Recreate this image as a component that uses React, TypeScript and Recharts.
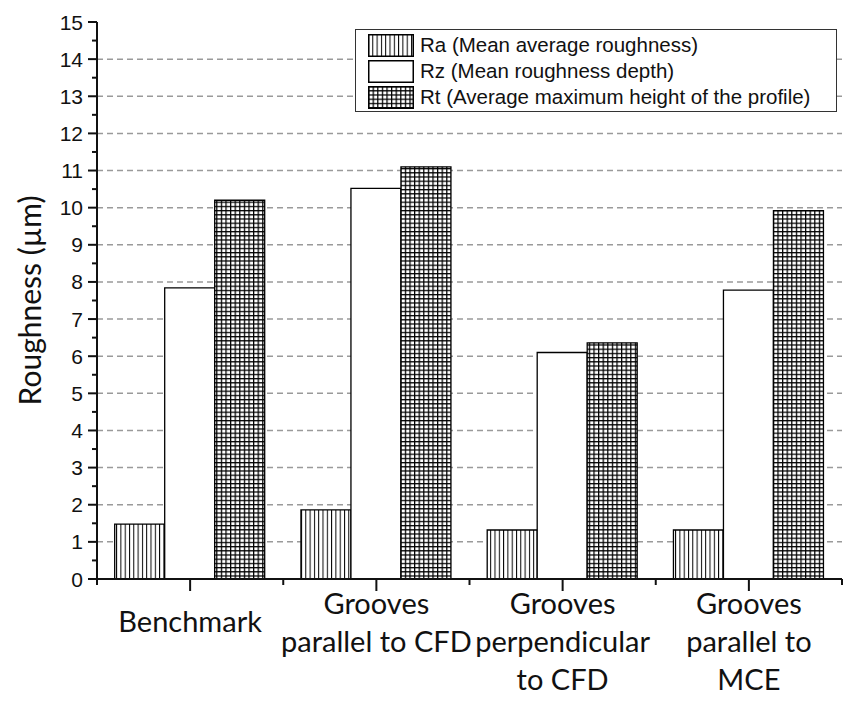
import React from "react"
import { Bar, BarChart, CartesianGrid, Legend, XAxis, YAxis } from "recharts"

// roughness per surface condition, µm
const categories = [
    "Benchmark",
    "Grooves parallel to CFD",
    "Grooves perpendicular to CFD",
    "Grooves parallel to MCE",
]
const categoryLines = [
    ["Benchmark"],
    ["Grooves", "parallel to CFD"],
    ["Grooves", "perpendicular", "to CFD"],
    ["Grooves", "parallel to", "MCE"],
]
const raValues = [1.48, 1.86, 1.32, 1.32]
const rzValues = [7.84, 10.52, 6.1, 7.78]
const rtValues = [10.2, 11.1, 6.36, 9.92]

const seriesNames = [
    "Ra (Mean average roughness)",
    "Rz (Mean roughness depth)",
    "Rt (Average maximum height of the profile)",
]
const yTicks = [0, 1, 2, 3, 4, 5, 6, 7, 8, 9, 10, 11, 12, 13, 14, 15]
const gridValues = [1, 2, 3, 4, 5, 6, 7, 8, 9, 10, 11, 12, 13, 14]

const data = categories.map((name, i) => ({
    name,
    ra: raValues[i],
    rz: rzValues[i],
    rt: rtValues[i],
}))

// ticks every 0.5, labels only on whole numbers
const allYTicks = yTicks.flatMap((t) => (t < 15 ? [t, t + 0.5] : [t]))

const WIDTH = 844
const HEIGHT = 703
const LEFT = 97
const RIGHT_MARGIN = 2
const PLOT_W = WIDTH - LEFT - RIGHT_MARGIN
const BAND = PLOT_W / categories.length

const TICK_FONT = "'Liberation Sans', Arial, sans-serif"
const LABEL_FONT = "Lato, 'Open Sans', sans-serif"
const INK = "#111"

function LeftTick({ x, y, payload }: any) {
    const major = Number.isInteger(payload.value)
    return (
        <g>
            <line x1={x - (major ? 9 : 5)} x2={x} y1={y} y2={y} stroke={INK} strokeWidth={2} />
            {major && (
                <text
                    x={x - 14}
                    y={y + 7.5}
                    textAnchor="end"
                    fontFamily={TICK_FONT}
                    fontSize={21}
                    fill={INK}
                >
                    {payload.value}
                </text>
            )}
        </g>
    )
}

function RightTick({ x, y, payload }: any) {
    const major = Number.isInteger(payload.value)
    return <line x1={x - (major ? 7 : 4)} x2={x} y1={y} y2={y} stroke={INK} strokeWidth={2} />
}

function BottomTick({ x, y, payload, index }: any) {
    const lines = categoryLines[index] ?? [payload.value]
    const startY = lines.length === 1 ? y + 53 : y + 35
    return (
        <g>
            <line x1={x} x2={x} y1={y} y2={y + 12} stroke={INK} strokeWidth={2} />
            <line x1={x - BAND / 2} x2={x - BAND / 2} y1={y} y2={y + 6} stroke={INK} strokeWidth={2} />
            {index === categories.length - 1 && (
                <line x1={x + BAND / 2} x2={x + BAND / 2} y1={y} y2={y + 6} stroke={INK} strokeWidth={2} />
            )}
            {lines.map((line: string, i: number) => (
                <text
                    key={line}
                    x={x}
                    y={startY + i * 38}
                    textAnchor="middle"
                    fontFamily={LABEL_FONT}
                    fontSize={29}
                    fill={INK}
                >
                    {line}
                </text>
            ))}
        </g>
    )
}

function TopTick({ x, y }: any) {
    return (
        <g>
            <line x1={x} x2={x} y1={y} y2={y + 6} stroke={INK} strokeWidth={2} />
            <line x1={x - BAND / 2} x2={x - BAND / 2} y1={y} y2={y + 6} stroke={INK} strokeWidth={2} />
        </g>
    )
}

function PatternDefs({ prefix }: { prefix: string }) {
    return (
        <defs>
            <pattern id={`${prefix}-vert`} width={4.3} height={4.3} patternUnits="userSpaceOnUse">
                <rect width={4.3} height={4.3} fill="#fff" />
                <line x1={0.5} x2={0.5} y1={0} y2={4.3} stroke="#000" strokeWidth={1} />
            </pattern>
            <pattern id={`${prefix}-grid`} width={4.6} height={4.2} patternUnits="userSpaceOnUse">
                <rect width={4.6} height={4.2} fill="#fff" />
                <line x1={0.6} x2={0.6} y1={0} y2={4.2} stroke="#000" strokeWidth={1.3} />
                <line x1={0} x2={4.6} y1={0.6} y2={0.6} stroke="#000" strokeWidth={1.3} />
            </pattern>
        </defs>
    )
}

const swatchFills = ["url(#lg-vert)", "#fff", "url(#lg-grid)"]

function RoughnessLegend() {
    return (
        <div
            style={{
                boxSizing: "border-box",
                width: 482,
                border: "1.5px solid #333",
                background: "#fff",
                padding: "2px 0 1px 12px",
                fontFamily: TICK_FONT,
                fontSize: 20.5,
                color: INK,
            }}
        >
            {seriesNames.map((name, i) => (
                <div key={name} style={{ display: "flex", alignItems: "center", height: 26 }}>
                    <svg width={46} height={23} style={{ marginRight: 6, flexShrink: 0 }}>
                        {i === 0 && <PatternDefs prefix="lg" />}
                        <rect x={0.75} y={0.75} width={44.5} height={21.5} fill={swatchFills[i]} stroke="#000" strokeWidth={1.5} />
                    </svg>
                    <span style={{ whiteSpace: "nowrap" }}>{name}</span>
                </div>
            ))}
        </div>
    )
}

export default function App() {
    return (
        <div style={{ position: "absolute", left: 0, top: 0, background: "#fff" }}>
            <BarChart
                width={WIDTH}
                height={HEIGHT}
                data={data}
                margin={{ top: 22, right: RIGHT_MARGIN, bottom: 0, left: 0 }}
                barCategoryGap="9.5%"
                barGap={0}
            >
                <PatternDefs prefix="bar" />
                <CartesianGrid
                    vertical={false}
                    horizontalValues={gridValues}
                    stroke="#9a9a9a"
                    strokeWidth={1.5}
                    strokeDasharray="6 4"
                />
                <XAxis
                    dataKey="name"
                    height={124}
                    interval={0}
                    tickSize={0}
                    tickMargin={0}
                    tickLine={false}
                    axisLine={{ stroke: INK, strokeWidth: 2 }}
                    tick={<BottomTick />}
                />
                <XAxis
                    xAxisId="top"
                    dataKey="name"
                    orientation="top"
                    height={0}
                    interval={0}
                    tickSize={0}
                    tickMargin={0}
                    tickLine={false}
                    axisLine={{ stroke: INK, strokeWidth: 2 }}
                    tick={<TopTick />}
                />
                <YAxis
                    width={LEFT}
                    domain={[0, 15]}
                    ticks={allYTicks}
                    interval={0}
                    tickSize={0}
                    tickMargin={0}
                    tickLine={false}
                    axisLine={{ stroke: INK, strokeWidth: 2 }}
                    tick={<LeftTick />}
                    label={{
                        value: "Roughness (µm)",
                        angle: -90,
                        position: "insideLeft",
                        dx: 25,
                        style: { fontFamily: LABEL_FONT, fontSize: 30, fill: INK, textAnchor: "middle" },
                    }}
                />
                <YAxis
                    yAxisId="right"
                    orientation="right"
                    width={0}
                    domain={[0, 15]}
                    ticks={allYTicks}
                    interval={0}
                    tickSize={0}
                    tickMargin={0}
                    tickLine={false}
                    axisLine={{ stroke: INK, strokeWidth: 2 }}
                    tick={<RightTick />}
                />
                <Legend
                    layout="vertical"
                    align="center"
                    verticalAlign="middle"
                    wrapperStyle={{ position: "absolute", left: 355, top: 29, width: "auto" }}
                    content={<RoughnessLegend />}
                />
                <Bar dataKey="ra" name={seriesNames[0]} fill="url(#bar-vert)" stroke="#000" strokeWidth={1.3} isAnimationActive={false} />
                <Bar dataKey="rz" name={seriesNames[1]} fill="#fff" stroke="#000" strokeWidth={1.3} isAnimationActive={false} />
                <Bar dataKey="rt" name={seriesNames[2]} fill="url(#bar-grid)" stroke="#000" strokeWidth={1.3} isAnimationActive={false} />
            </BarChart>
        </div>
    )
}
